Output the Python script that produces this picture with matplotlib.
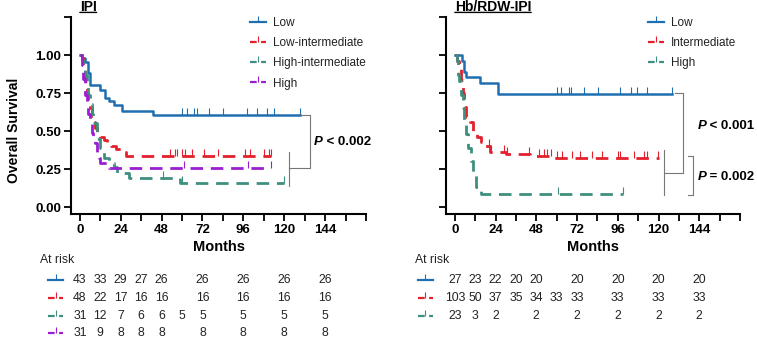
import numpy as np
import matplotlib
matplotlib.use("Agg")
import matplotlib.pyplot as plt
from matplotlib.lines import Line2D
from matplotlib.markers import TICKUP
import matplotlib.transforms as mtransforms

plt.rcParams['font.family'] = ['Liberation Sans', 'DejaVu Sans']

BLUE = '#1f6fb0'
RED = '#e3202b'
TEAL = '#3e8f80'
PURPLE = '#9b1fd0'

# ---- IPI panel (step times, survival after step, end of follow-up, censor times)
ipi_low_t = [0, 1.5, 3, 4.5, 6, 12, 15, 17, 20, 25, 43]
ipi_low_s = [1.0, 0.977, 0.953, 0.88, 0.80, 0.77, 0.72, 0.70, 0.67, 0.63, 0.605]
ipi_low_end = 129
ipi_low_cens = [60, 63, 67, 69, 76, 84, 98, 104, 110, 114, 129]

ipi_li_t = [0, 1, 2, 3, 4, 5, 6, 7, 8, 9, 10, 12, 14, 16, 18, 21, 24, 27]
ipi_li_s = [1.0, 0.98, 0.92, 0.83, 0.75, 0.69, 0.65, 0.60, 0.56, 0.52, 0.49, 0.46,
            0.44, 0.42, 0.40, 0.38, 0.36, 0.335]
ipi_li_end = 112
ipi_li_cens = [53, 56, 57, 60, 62, 66, 73, 81, 97, 100, 108, 111, 112]

ipi_hi_t = [0, 1, 2, 3, 4, 5, 6, 7, 8, 10, 12, 14, 17, 20, 22, 29, 59]
ipi_hi_s = [1.0, 0.97, 0.94, 0.87, 0.81, 0.74, 0.68, 0.61, 0.55, 0.45, 0.39, 0.32,
            0.29, 0.26, 0.226, 0.194, 0.161]
ipi_hi_end = 120
ipi_hi_cens = [49, 60, 120]

ipi_high_t = [0, 1, 2, 3, 4, 5, 6, 7, 8, 9, 10, 11, 12, 17]
ipi_high_s = [1.0, 0.935, 0.84, 0.74, 0.68, 0.61, 0.55, 0.49, 0.45, 0.42, 0.355,
              0.32, 0.29, 0.258]
ipi_high_end = 112
ipi_high_cens = [61, 99, 112]

# ---- Hb/RDW-IPI panel
hb_low_t = [0, 4, 5.2, 6.6, 15, 25.3]
hb_low_s = [1.0, 0.963, 0.889, 0.852, 0.815, 0.741]
hb_low_end = 128
hb_low_cens = [60, 62.4, 67.3, 68.2, 76, 84.3, 97.6, 104, 107.5, 113, 128]

hb_int_t = [0, 1.5, 2.6, 3.6, 4.6, 5.6, 6.6, 9, 11, 13, 15.6, 17.6, 20.6, 30, 44, 58]
hb_int_s = [1.0, 0.96, 0.92, 0.835, 0.75, 0.66, 0.59, 0.56, 0.50, 0.46, 0.43, 0.40,
            0.365, 0.347, 0.336, 0.325]
hb_int_end = 120
hb_int_cens = [20.2, 21.2, 29, 31, 43.7, 49.6, 52.5, 54.5, 56.5, 60.4, 63.3, 69.2,
               74, 81, 86.9, 96, 97.6, 105.5, 111.4, 113.3, 119.6]

hb_high_t = [0, 1, 2, 2.6, 3.6, 4.6, 5.6, 6.6, 8, 9.6, 11, 12.5, 15.6]
hb_high_s = [1.0, 0.96, 0.87, 0.826, 0.739, 0.652, 0.565, 0.478, 0.391, 0.304,
             0.217, 0.13, 0.087]
hb_high_end = 99
hb_high_cens = [61, 99]

# ---- numbers at risk
risk_times = [0, 12, 24, 36, 48, 60, 72, 96, 120, 144]
ipi_risk = [
    ['43', '33', '29', '27', '26', '', '26', '26', '26', '26'],
    ['48', '22', '17', '16', '16', '', '16', '16', '16', '16'],
    ['31', '12', '7', '6', '6', '5', '5', '5', '5', '5'],
    ['31', '9', '8', '8', '8', '', '8', '8', '8', '8'],
]
hb_risk = [
    ['27', '23', '22', '20', '20', '', '20', '20', '20', '20'],
    ['103', '50', '37', '35', '34', '33', '33', '33', '33', '33'],
    ['23', '3', '2', '', '2', '', '2', '2', '2', '2'],
]

ipi_labels = ['Low', 'Low-intermediate', 'High-intermediate', 'High']
hb_labels = ['Low', 'Intermediate', 'High']

W, H = 757, 339
fig = plt.figure(figsize=(W / 100, H / 100), dpi=100)


def px_axes(x0, x1, y0, y1):
    return fig.add_axes([x0 / W, 1 - y1 / H, (x1 - x0) / W, (y1 - y0) / H])


def km(ax, t, s, end, cens, color, ls):
    tt = list(t) + [end]
    ss = list(s) + [s[-1]]
    kw = dict(color=color, lw=1.8 if ls == '-' else 2.0)
    if ls != '-':
        kw['dashes'] = (4.5, 2.8)
    ax.step(tt, ss, where='post', **kw)
    idx = np.searchsorted(np.array(t), np.array(cens), side='right') - 1
    cs = np.array(s)[idx]
    ax.plot(cens, cs, ls='none', marker=TICKUP, markersize=5, mew=0.8, color=color)


def style(ax, ylab):
    ax.set_xlim(-5.2, 168)
    ax.set_ylim(-0.046, 1.25)
    ax.set_xticks(np.arange(0, 169, 12))
    ax.set_xticklabels([str(v) if v % 24 == 0 and v <= 144 else '' for v in range(0, 169, 12)])
    ax.set_yticks([0, 0.25, 0.5, 0.75, 1.0, 1.25])
    if ylab:
        ax.set_yticklabels(['0.00', '0.25', '0.50', '0.75', '1.00', ''])
        ax.set_ylabel('Overall Survival', fontsize=10, fontweight='bold')
        ax.yaxis.set_label_coords(-0.17, 0.426)
    else:
        ax.set_yticklabels([])
    for sp in ['top', 'right']:
        ax.spines[sp].set_visible(False)
    for sp in ['left', 'bottom']:
        ax.spines[sp].set_linewidth(1.5)
    ax.tick_params(width=1.3, length=5, labelsize=9.5, pad=2)
    for lab in ax.get_xticklabels() + ax.get_yticklabels():
        lab.set_fontweight('bold')
    ax.set_xlabel('Months', fontsize=10.5, fontweight='bold', labelpad=3)


def title(ax, txt):
    tr = mtransforms.blended_transform_factory(ax.transData, ax.transAxes)
    t = ax.text(0, 1.03, txt, transform=tr, fontsize=10, fontweight='bold',
                ha='left', va='baseline')
    ax.annotate('', xy=(0, 0.12), xycoords=t, xytext=(1, 0.12), textcoords=t,
                arrowprops=dict(arrowstyle='-', lw=1.0, color='black',
                                shrinkA=0, shrinkB=0))


def pval(ax, x, y, rest):
    p = ax.text(x, y, 'P', fontsize=9.5, fontweight='bold', style='italic',
                ha='left', va='center', clip_on=False)
    ax.annotate(rest, xy=(1, 0), xycoords=p, fontsize=9.5, fontweight='bold',
                ha='left', va='bottom', annotation_clip=False)


def legend(ax, colors, styles, labels, x0):
    hs = []
    for c, ls in zip(colors, styles):
        kw = dict(color=c, lw=1.6, marker=TICKUP, markersize=4, mew=0.8)
        if ls != '-':
            kw['dashes'] = (3, 2)
        hs.append(Line2D([], [], **kw))
    ax.legend(hs, labels, loc='upper left', bbox_to_anchor=(x0, 1.025), frameon=False,
              fontsize=8.5, handlelength=1.35, handletextpad=0.6, labelspacing=0.7,
              borderaxespad=0, numpoints=1, labelcolor='#222222')


def risk_table(ax, rows, colors, styles, x_at, x_sym):
    fig.text(x_at / W, 1 - 260 / H, 'At risk', fontsize=8.8, ha='left', va='center',
             color='#222222')
    tr = mtransforms.blended_transform_factory(ax.transData, fig.transFigure)
    ys = [280, 298, 316, 333]
    for row, c, ls, yp in zip(rows, colors, styles, ys):
        y = 1 - yp / H
        kw = dict(color=c, lw=1.6)
        if ls != '-':
            kw['dashes'] = (3, 2)
        fig.add_artist(Line2D([x_sym / W, (x_sym + 15) / W], [y, y],
                              transform=fig.transFigure, **kw))
        fig.add_artist(Line2D([(x_sym + 7.5) / W], [y], transform=fig.transFigure,
                              color=c, marker=TICKUP, markersize=4, mew=0.8, ls='none'))
        for tm, v in zip(risk_times, row):
            if v:
                ax.text(tm, y, v, transform=tr, fontsize=8.8, ha='center', va='center',
                        color='#222222')


def bracket(ax, xs, ys):
    ax.plot(xs, ys, color='#777777', lw=0.8, clip_on=False)


# ---------------- left panel
ax1 = px_axes(71, 366, 17, 214)
km(ax1, ipi_low_t, ipi_low_s, ipi_low_end, ipi_low_cens, BLUE, '-')
km(ax1, ipi_li_t, ipi_li_s, ipi_li_end, ipi_li_cens, RED, '--')
km(ax1, ipi_hi_t, ipi_hi_s, ipi_hi_end, ipi_hi_cens, TEAL, '--')
km(ax1, ipi_high_t, ipi_high_s, ipi_high_end, ipi_high_cens, PURPLE, '--')
style(ax1, True)
title(ax1, 'IPI')
legend(ax1, [BLUE, RED, TEAL, PURPLE], ['-', '--', '--', '--'], ipi_labels, 0.59)
bracket(ax1, [129.4, 135.3, 135.3, 123], [0.605, 0.605, 0.257, 0.257])
bracket(ax1, [123, 123], [0.14, 0.36])
pval(ax1, 137.5, 0.43, ' < 0.002')
risk_table(ax1, ipi_risk, [BLUE, RED, TEAL, PURPLE], ['-', '--', '--', '--'], 40, 48)

# ---------------- right panel
ax2 = px_axes(446, 740, 17, 214)
km(ax2, hb_low_t, hb_low_s, hb_low_end, hb_low_cens, BLUE, '-')
km(ax2, hb_int_t, hb_int_s, hb_int_end, hb_int_cens, RED, '--')
km(ax2, hb_high_t, hb_high_s, hb_high_end, hb_high_cens, TEAL, '--')
style(ax2, False)
title(ax2, 'Hb/RDW-IPI')
legend(ax2, [BLUE, RED, TEAL], ['-', '--', '--'], hb_labels, 0.67)
bracket(ax2, [129.5, 134.7, 134.7, 123], [0.75, 0.75, 0.224, 0.224])
bracket(ax2, [123, 123], [0.079, 0.375])
bracket(ax2, [137.6, 140.6, 140.6, 137.6], [0.336, 0.336, 0.079, 0.079])
pval(ax2, 143, 0.53, ' < 0.001')
pval(ax2, 143, 0.20, ' = 0.002')
risk_table(ax2, hb_risk, [BLUE, RED, TEAL], ['-', '--', '--'], 415, 418)

fig.savefig('out.png', dpi=100)
